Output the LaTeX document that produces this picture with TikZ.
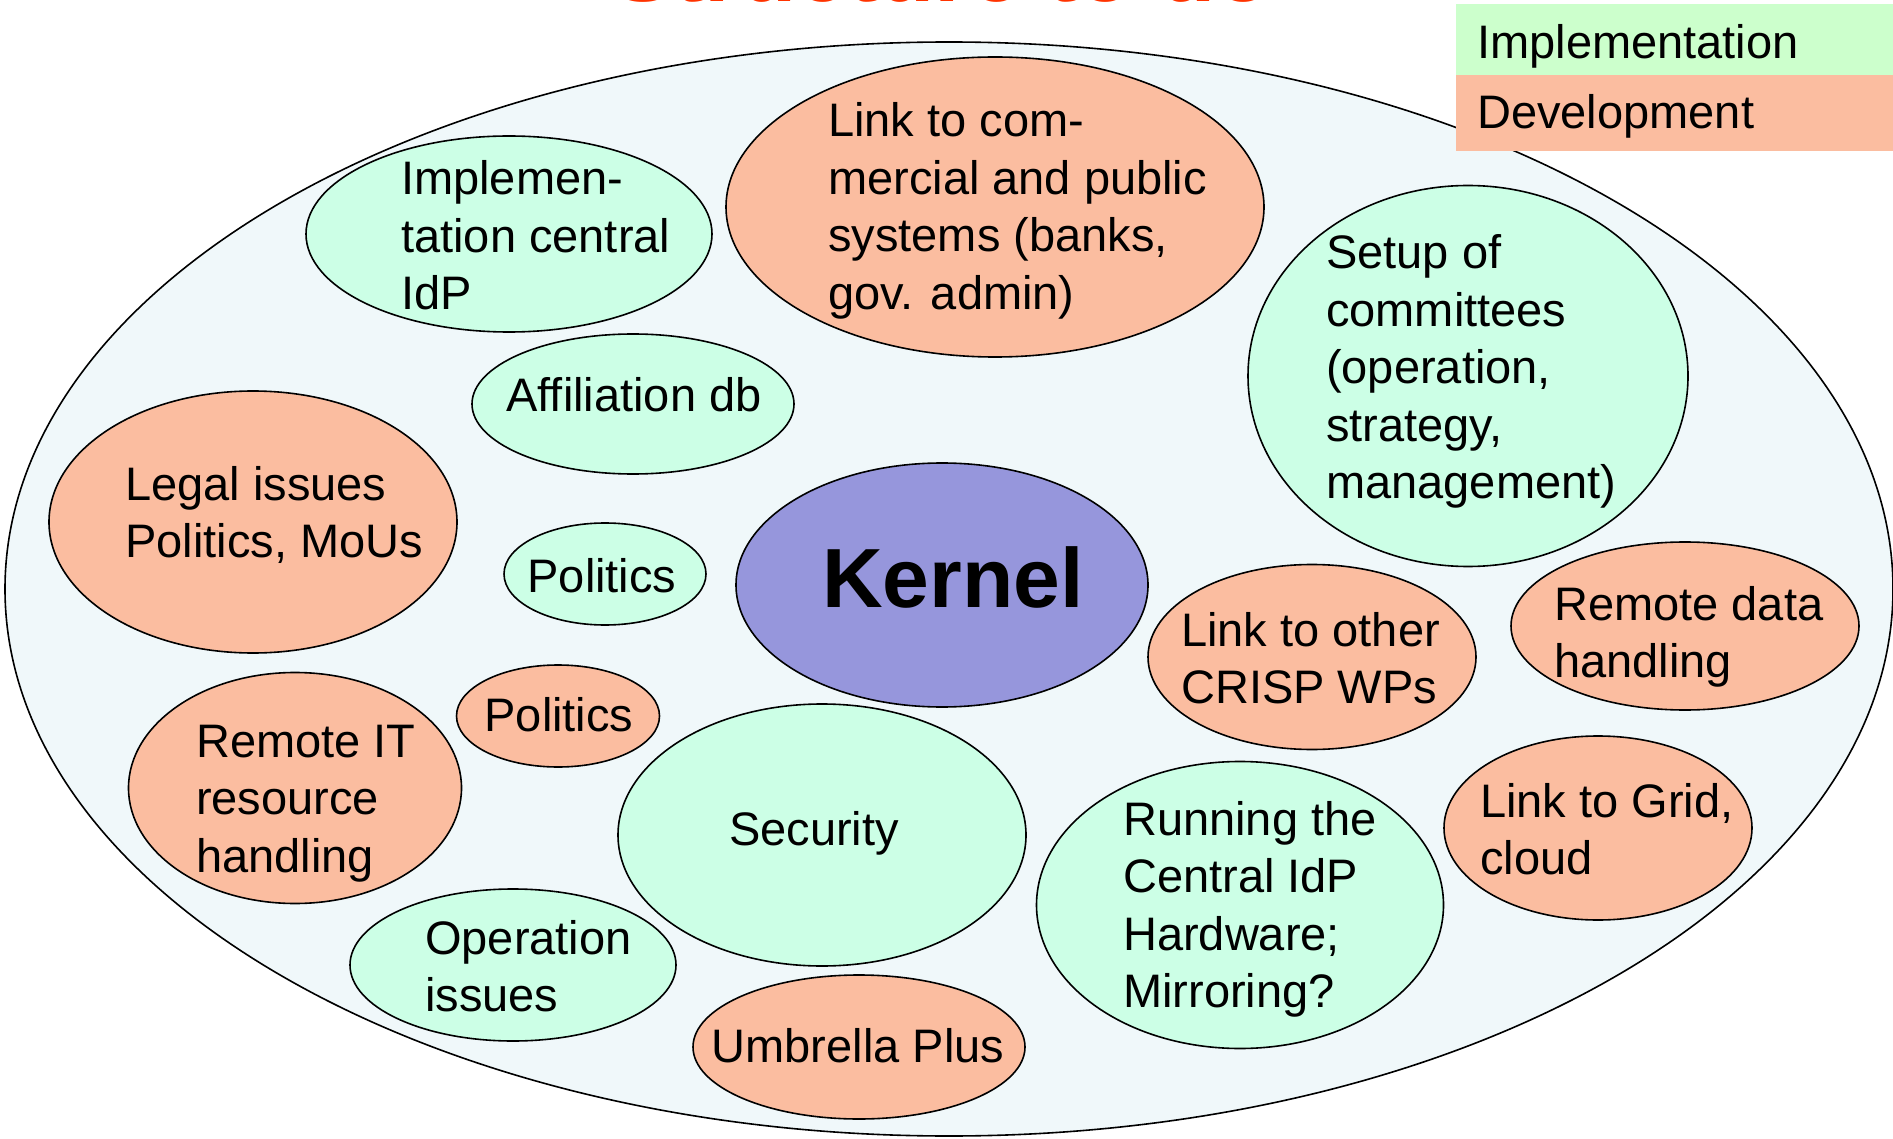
\documentclass[tikz,border=0pt]{standalone}
\usepackage{fontspec}
\setmainfont{Liberation Sans}
\usetikzlibrary{shapes.geometric}
\definecolor{outerfill}{HTML}{F0F8FA}
\definecolor{mint}{HTML}{CCFFE6}
\definecolor{legendgreen}{HTML}{CCFFCC}
\definecolor{salmon}{HTML}{FBBDA0}
\definecolor{kernelblue}{HTML}{9696DC}
\definecolor{titlered}{HTML}{FF3300}
\newcommand\mlines[1]{\begin{tabular}[t]{@{}l@{}}#1\end{tabular}}
\begin{document}
\begin{tikzpicture}[x=1pt,y=-1pt,
  blob/.style={ellipse, draw=black, line width=1.6pt, inner sep=0pt},
  impl/.style={blob, fill=mint},
  dev/.style={blob, fill=salmon},
  lbl/.style={inner sep=0pt, font=\fontsize{47}{57.5}\selectfont, text=black},
  legbox/.style={inner sep=0pt, anchor=north west, minimum width=437pt},
]
\useasboundingbox (0,0) rectangle (1893,1139);
% title (cut off at the top)
\node[anchor=base, inner sep=0pt, text=titlered, font=\fontsize{92}{110}\selectfont\bfseries] (title) at (942,2) {Structure to do};
% outer ellipse
\node[blob, fill=outerfill, minimum width=1888pt, minimum height=1094pt] (outer) at (949,589) {};
% legend
\node[legbox, fill=legendgreen, minimum height=71pt] (lgimpl) at (1456,4) {};
\node[legbox, fill=salmon, minimum height=76pt] (lgdev) at (1456,75) {};
\node[lbl, anchor=base west] (lgimpltxt) at (1477,59) {Implementation};
\node[lbl, anchor=base west] (lgdevtxt) at (1477,129) {Development};
% ellipses
\node[impl, minimum width=406pt, minimum height=196pt] (e1) at (509,234) {};
\node[lbl, anchor=base west] (t1) at (401,195) {\mlines{Implemen-\\tation central\\IdP}};
\node[dev, minimum width=538pt, minimum height=300pt] (e2) at (995,207) {};
\node[lbl, anchor=base west] (t2) at (828,137) {\mlines{Link to com-\\mercial and public\\systems (banks,\\gov. admin)}};
\node[impl, minimum width=440pt, minimum height=381pt] (e3) at (1468,376) {};
\node[lbl, anchor=base west] (t3) at (1326,269) {\mlines{Setup of\\committees\\(operation,\\strategy,\\management)}};
\node[impl, minimum width=322pt, minimum height=140pt] (e4) at (633,404) {};
\node[lbl, anchor=base] (t4) at (634,412) {Affiliation db};
\node[dev, minimum width=408pt, minimum height=262pt] (e5) at (253,522) {};
\node[lbl, anchor=base west] (t5) at (125,500) {\mlines{Legal issues\\Politics, MoUs}};
\node[impl, minimum width=202pt, minimum height=102pt] (e6) at (605,574) {};
\node[lbl, anchor=base] (t6) at (602,592) {Politics};
\node[blob, fill=kernelblue, minimum width=412pt, minimum height=244pt] (e7) at (942,585) {};
\node[inner sep=0pt, anchor=base, font=\fontsize{84}{100}\selectfont\bfseries] (t7) at (953,607) {Kernel};
\node[dev, minimum width=328pt, minimum height=185pt] (e8) at (1312,657) {};
\node[lbl, anchor=base west] (t8) at (1181,646) {\mlines{Link to other\\CRISP WPs}};
\node[dev, minimum width=348pt, minimum height=168pt] (e9) at (1685,626) {};
\node[lbl, anchor=base west] (t9) at (1554,620) {\mlines{Remote data\\handling}};
\node[dev, minimum width=203pt, minimum height=102pt] (e10) at (558,716) {};
\node[lbl, anchor=base] (t10) at (559,731) {Politics};
\node[dev, minimum width=333pt, minimum height=231pt] (e11) at (295,788) {};
\node[lbl, anchor=base west] (t11) at (196,757) {\mlines{Remote IT\\resource\\handling}};
\node[impl, minimum width=408pt, minimum height=262pt] (e12) at (822,835) {};
\node[lbl, anchor=base] (t12) at (814,845) {Security};
\node[impl, minimum width=407pt, minimum height=287pt] (e13) at (1240,905) {};
\node[lbl, anchor=base west] (t13) at (1123,835) {\mlines{Running the\\Central IdP\\Hardware;\\Mirroring?}};
\node[dev, minimum width=308pt, minimum height=184pt] (e14) at (1598,828) {};
\node[lbl, anchor=base west] (t14) at (1480,817) {\mlines{Link to Grid,\\cloud}};
\node[impl, minimum width=326pt, minimum height=152pt] (e15) at (513,965) {};
\node[lbl, anchor=base west] (t15) at (425,954) {\mlines{Operation\\issues}};
\node[dev, minimum width=332pt, minimum height=144pt] (e16) at (859,1047) {};
\node[lbl, anchor=base] (t16) at (858,1062) {Umbrella Plus};
\end{tikzpicture}
\end{document}
